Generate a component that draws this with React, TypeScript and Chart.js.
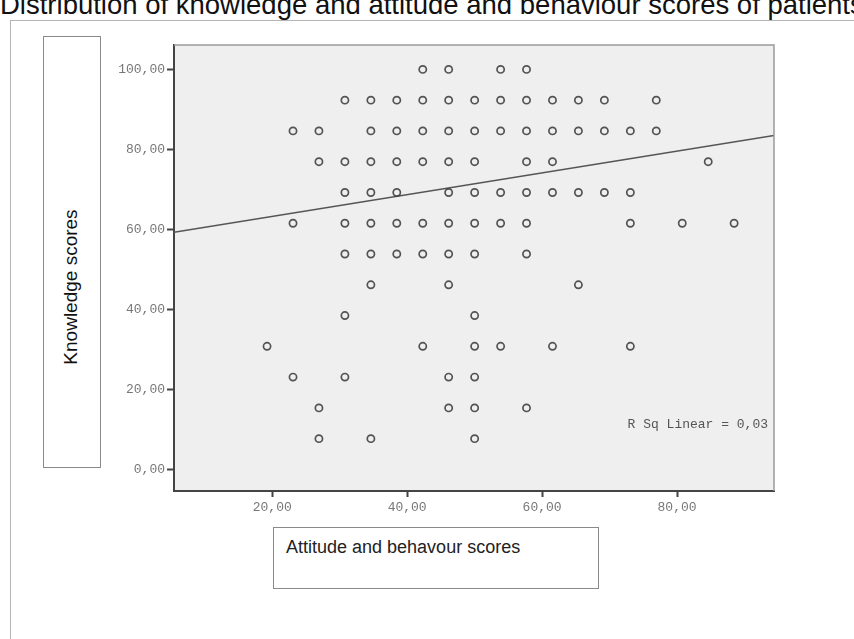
import React, { useEffect, useRef } from "react";
import { Chart, registerables } from "chart.js";

Chart.register(...registerables);

// ---------- text ----------
const TITLE = "Distribution of knowledge and attitude and behaviour scores of patients";
const X_TITLE = "Attitude and behavour scores";
const Y_TITLE = "Knowledge scores";
const FIT_LABEL = "R Sq Linear = 0,03";

// ---------- axes ----------
const X_TICKS = [20, 40, 60, 80];
const Y_TICKS = [0, 20, 40, 60, 80, 100];
const X_MIN = 5.44;
const X_MAX = 94.37;
const Y_MIN = -5.4;
const Y_MAX = 106.1;

// ---------- data: attitude scores (x) observed at each knowledge score (y) ----------
const K100 = [42.31, 46.15, 53.85, 57.69];
const K92 = [30.77, 34.62, 38.46, 42.31, 46.15, 50, 53.85, 57.69, 61.54, 65.38, 69.23, 76.92];
const K85 = [23.08, 26.92, 34.62, 38.46, 42.31, 46.15, 50, 53.85, 57.69, 61.54, 65.38, 69.23, 73.08, 76.92];
const K77 = [26.92, 30.77, 34.62, 38.46, 42.31, 46.15, 50, 57.69, 61.54, 84.62];
const K69 = [30.77, 34.62, 38.46, 46.15, 50, 53.85, 57.69, 61.54, 65.38, 69.23, 73.08];
const K62 = [23.08, 30.77, 34.62, 38.46, 42.31, 46.15, 50, 53.85, 57.69, 73.08, 80.77, 88.46];
const K54 = [30.77, 34.62, 38.46, 42.31, 46.15, 50, 57.69];
const K46 = [34.62, 46.15, 65.38];
const K38 = [30.77, 50];
const K31 = [19.23, 42.31, 50, 53.85, 61.54, 73.08];
const K23 = [23.08, 30.77, 46.15, 50];
const K15 = [26.92, 46.15, 50, 57.69];
const K8 = [26.92, 34.62, 50];

const ROW_VALUES = [100, 92.31, 84.62, 76.92, 69.23, 61.54, 53.85, 46.15, 38.46, 30.77, 23.08, 15.38, 7.69];
const ROWS = [K100, K92, K85, K77, K69, K62, K54, K46, K38, K31, K23, K15, K8];

// ---------- linear fit ----------
const FIT_INTERCEPT = 57.82;
const FIT_SLOPE = 0.2721;
const FIT_LABEL_Y = 11.25;

const fmt = (v: number) => v.toFixed(2).replace(".", ",");

export default function App() {
  const ref = useRef<HTMLCanvasElement | null>(null);

  useEffect(() => {
    if (!ref.current) return;
    const points: { x: number; y: number }[] = [];
    ROWS.forEach((row, i) => row.forEach((x) => points.push({ x, y: ROW_VALUES[i] })));
    const fit = [X_MIN, X_MAX].map((x) => ({ x, y: FIT_INTERCEPT + FIT_SLOPE * x }));

    const areaPlugin = {
      id: "area",
      beforeDraw(chart: any) {
        const { ctx, chartArea: a } = chart;
        ctx.save();
        ctx.fillStyle = "#efefef";
        ctx.fillRect(a.left, a.top, a.right - a.left, a.bottom - a.top);
        ctx.restore();
      },
      afterDraw(chart: any) {
        const { ctx, chartArea: a } = chart;
        ctx.save();
        ctx.strokeStyle = "#9a9a9a";
        ctx.lineWidth = 1.5;
        ctx.beginPath();
        ctx.moveTo(a.left, a.top);
        ctx.lineTo(a.right, a.top);
        ctx.lineTo(a.right, a.bottom);
        ctx.stroke();
        ctx.fillStyle = "#555";
        ctx.font = "13px 'Liberation Mono', monospace";
        ctx.textAlign = "right";
        ctx.textBaseline = "middle";
        ctx.fillText(FIT_LABEL, a.right - 6, chart.scales.y.getPixelForValue(FIT_LABEL_Y));
        ctx.restore();
      },
    };

    const chart = new Chart(ref.current, {
      type: "scatter",
      data: {
        datasets: [
          {
            type: "scatter",
            data: points,
            pointStyle: "circle",
            pointRadius: 3.6,
            pointBorderWidth: 1.7,
            borderColor: "rgba(65,65,65,0.9)",
            backgroundColor: "rgba(0,0,0,0)",
          } as any,
          {
            type: "line",
            data: fit,
            showLine: true,
            pointRadius: 0,
            borderColor: "#555",
            borderWidth: 1.5,
            fill: false,
          } as any,
        ],
      },
      options: {
        animation: false,
        responsive: false,
        plugins: { legend: { display: false }, tooltip: { enabled: false } },
        layout: { padding: { left: 0, top: 45, right: 80, bottom: 108 } },
        scales: {
          x: {
            type: "linear",
            min: X_MIN,
            max: X_MAX,
            afterBuildTicks: (s: any) => {
              s.ticks = X_TICKS.map((value) => ({ value }));
            },
            afterFit: (s: any) => {
              s.height = 40;
            },
            border: { color: "#444", width: 2 },
            grid: { drawOnChartArea: false, tickColor: "#444", tickLength: 6, tickWidth: 2 },
            ticks: {
              callback: (v: any) => fmt(Number(v)),
              color: "#777",
              padding: 3,
              maxRotation: 0,
              font: { family: "'Liberation Mono', monospace", size: 13 },
            },
          },
          y: {
            type: "linear",
            min: Y_MIN,
            max: Y_MAX,
            afterBuildTicks: (s: any) => {
              s.ticks = Y_TICKS.map((value) => ({ value }));
            },
            afterFit: (s: any) => {
              s.width = 174;
            },
            border: { color: "#444", width: 2 },
            grid: { drawOnChartArea: false, tickColor: "#444", tickLength: 7, tickWidth: 2 },
            ticks: {
              callback: (v: any) => fmt(Number(v)),
              color: "#777",
              padding: 2,
              font: { family: "'Liberation Mono', monospace", size: 13 },
            },
          },
        },
      },
      plugins: [areaPlugin],
    } as any);
    return () => chart.destroy();
  }, []);

  return (
    <div
      style={{
        position: "absolute",
        left: 0,
        top: 0,
        width: 854,
        height: 639,
        overflow: "hidden",
        background: "#fff",
        fontFamily: "'Liberation Sans', Arial, sans-serif",
      }}
    >
      <div
        style={{
          position: "absolute",
          left: 0,
          top: -9,
          fontSize: 27.5,
          lineHeight: "28px",
          whiteSpace: "nowrap",
          color: "#111",
        }}
      >
        {TITLE}
      </div>
      <div
        style={{
          position: "absolute",
          left: 10,
          top: 20,
          width: 880,
          height: 660,
          border: "1px solid #b5b5b5",
          boxShadow: "1px 1px 2px rgba(0,0,0,0.15)",
          background: "#fff",
        }}
      />
      <div
        style={{
          position: "absolute",
          left: 43,
          top: 36,
          width: 56,
          height: 430,
          border: "1px solid #8a8a8a",
        }}
      />
      <div
        style={{
          position: "absolute",
          left: 71,
          top: 287,
          transform: "translate(-50%, -50%) rotate(-90deg)",
          fontSize: 19,
          whiteSpace: "nowrap",
          color: "#111",
        }}
      >
        {Y_TITLE}
      </div>
      <div
        style={{
          position: "absolute",
          left: 273,
          top: 527,
          width: 324,
          height: 60,
          border: "1px solid #8a8a8a",
        }}
      />
      <div
        style={{
          position: "absolute",
          left: 286,
          top: 537,
          fontSize: 18,
          lineHeight: "20px",
          whiteSpace: "nowrap",
          color: "#222",
        }}
      >
        {X_TITLE}
      </div>
      <canvas
        ref={ref}
        width={854}
        height={639}
        style={{ position: "absolute", left: 0, top: 0, width: 854, height: 639 }}
      />
    </div>
  );
}
